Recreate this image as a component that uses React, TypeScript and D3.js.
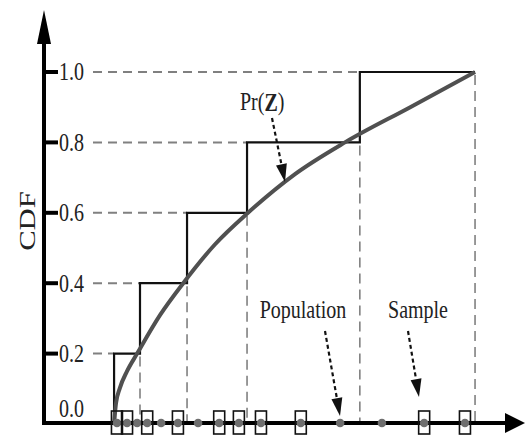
import React from "react";
import * as d3 from "d3";

// ---- data ----
const yTicks = [0, 0.2, 0.4, 0.6, 0.8, 1.0];
const yTickLabels = ["0.0", "0.2", "0.4", "0.6", "0.8", "1.0"];
// empirical CDF step positions (x in data units) and levels
const stepX = [14.6, 20, 29.8, 42.3, 65.8, 89.8];
const stepY = [0.2, 0.4, 0.6, 0.8, 1.0];
// smooth population CDF Pr(Z)
const curveX = [14.6, 15.0, 15.8, 17.3, 19.4, 24.2, 29.0, 35.6, 42.5, 52.3, 62.7, 76.3, 89.8];
const curveY = [0, 0.059, 0.102, 0.15, 0.2, 0.31, 0.4, 0.51, 0.6, 0.71, 0.8, 0.9, 1.0];
// population points and sample points on the axis
const population = [15.2, 17.3, 19.4, 21.5, 24.4, 27.9, 32.1, 36.5, 40.6, 45.2, 53.5, 61.7, 70.4, 79.2, 87.7];
const sample = [15.2, 17.3, 21.5, 27.9, 36.5, 40.6, 45.2, 53.5, 79.2, 87.7];

const W = 525;
const H = 437;

export default function App() {
  const x = d3.scaleLinear().domain([0, 100]).range([44, 524]);
  const y = d3.scaleLinear().domain([0, 1]).range([424, 72]);
  const axisY = y(0) - 1;

  const curvePts: [number, number][] = curveX.map((v, i) => [x(v), y(curveY[i])]);
  const curvePath = d3.line().curve(d3.curveMonotoneX)(curvePts) || "";

  // step path
  let stepPath = `M${x(stepX[0])},${y(0)}`;
  stepY.forEach((lv, i) => {
    stepPath += ` V${y(lv)} H${x(stepX[i + 1])}`;
  });

  const font = "'Liberation Serif', 'Times New Roman', serif";
  const stretch = 1.28;

  const Txt = ({ tx, ty, children, size = 20, anchor = "start" as any }: any) => (
    <g transform={`translate(${tx},${ty}) scale(1,${stretch})`}>
      <text x={0} y={0} fontFamily={font} fontSize={size} textAnchor={anchor} dominantBaseline="central" fill="#222">
        {children}
      </text>
    </g>
  );

  const Arrow = ({ x1, y1, x2, y2, head = 18, hw = 5.5 }: any) => {
    const dx = x2 - x1, dy = y2 - y1;
    const L = Math.hypot(dx, dy);
    const ux = dx / L, uy = dy / L;
    const bx = x2 - ux * head, by = y2 - uy * head;
    const px = -uy, py = ux;
    return (
      <g>
        <line x1={x1} y1={y1} x2={bx} y2={by} stroke="#111" strokeWidth={2.2} strokeDasharray="4 3" />
        <polygon points={`${x2},${y2} ${bx + px * hw},${by + py * hw} ${bx - px * hw},${by - py * hw}`} fill="#111" />
      </g>
    );
  };

  return (
    <svg width={W} height={H} style={{ position: "absolute", left: 0, top: 0, background: "#fff" }}>
      <rect width={W} height={H} fill="#fff" />
      {/* horizontal dashed guide lines */}
      {stepY.map((lv, i) => (
        <line key={"h" + i} x1={93} x2={x(stepX[i])} y1={y(lv)} y2={y(lv)} stroke="#808080" strokeWidth={2} strokeDasharray="9 6" />
      ))}
      {/* vertical dashed guide lines */}
      {stepY.map((lv, i) => (
        <line key={"v" + i} x1={x(stepX[i + 1])} x2={x(stepX[i + 1])} y1={y(lv) + 3} y2={axisY} stroke="#808080" strokeWidth={1.6} strokeDasharray="10 6" />
      ))}
      {/* step ECDF */}
      <path d={stepPath} fill="none" stroke="#111" strokeWidth={2.2} />
      {/* smooth CDF */}
      <path d={curvePath} fill="none" stroke="#505050" strokeWidth={4} />
      {/* axes */}
      <line x1={44} x2={44} y1={y(0)} y2={40} stroke="#000" strokeWidth={4} />
      <polygon points={`44,10 37,44 51,44`} fill="#000" />
      <line x1={42} x2={506} y1={axisY} y2={axisY} stroke="#000" strokeWidth={4} />
      <polygon points={`525,${axisY} 505,${axisY - 10} 505,${axisY + 10}`} fill="#000" />
      {/* ticks and labels */}
      {yTicks.map((t, i) => (
        <g key={"t" + i}>
          {t > 0 && <line x1={44} x2={58} y1={y(t)} y2={y(t)} stroke="#000" strokeWidth={4} />}
          <Txt tx={59} ty={t > 0 ? y(t) : y(t) - 15}>{yTickLabels[i]}</Txt>
        </g>
      ))}
      {/* axis title */}
      <g transform={`translate(27,221) rotate(-90) scale(${stretch},1)`}>
        <text x={0} y={0} fontFamily={font} fontSize={24} textAnchor="middle" dominantBaseline="central" fill="#222">CDF</text>
      </g>
      {/* population dots */}
      {population.map((v, i) => (
        <circle key={"p" + i} cx={x(v)} cy={axisY} r={4.3} fill="#6e6e6e" />
      ))}
      {/* sample squares */}
      {sample.map((v, i) => (
        <rect key={"s" + i} x={x(v) - 5.5} y={411} width={11} height={23} fill="none" stroke="#111" strokeWidth={1.6} />
      ))}
      {/* annotations */}
      <g transform={`translate(240,102) scale(1,${stretch})`}>
        <text x={0} y={0} fontFamily={font} fontSize={20} dominantBaseline="central" fill="#222">
          Pr(<tspan fontWeight="bold">Z</tspan>)
        </text>
      </g>
      <Arrow x1={272} y1={118} x2={285} y2={182} />
      <Txt tx={303} ty={310} anchor="middle">Population</Txt>
      <Arrow x1={325} y1={331} x2={340} y2={416} />
      <Txt tx={418} ty={310} anchor="middle">Sample</Txt>
      <Arrow x1={408} y1={331} x2={419} y2={397} />
    </svg>
  );
}
